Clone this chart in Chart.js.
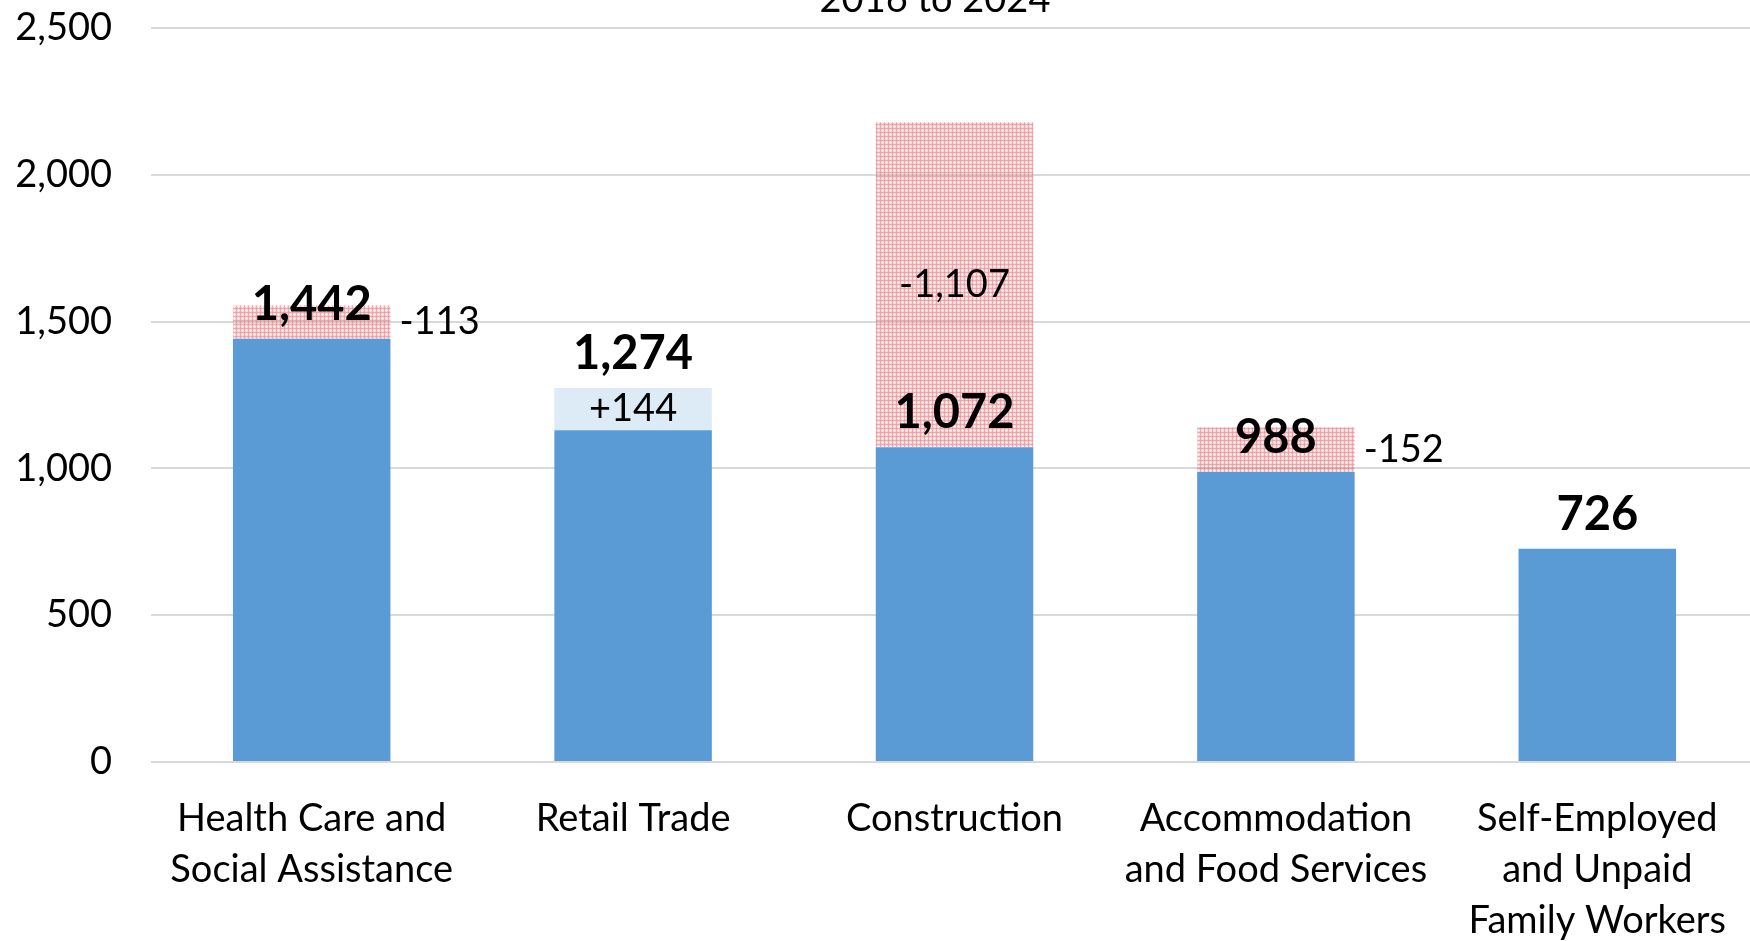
<!DOCTYPE html>
<html><head><meta charset="utf-8">
<script src="https://cdn.jsdelivr.net/npm/chart.js@4.4.1/dist/chart.umd.min.js"></script>
<style>
html,body{margin:0;padding:0;overflow:hidden;background:#fff}
#wrap{position:relative;width:1760px;height:941px}
</style></head><body><div id="wrap"><canvas id="c"></canvas></div>
<script>
// ---- data ----
const categories = [["Health Care and","Social Assistance"],["Retail Trade"],["Construction"],["Accommodation","and Food Services"],["Self-Employed","and Unpaid","Family Workers"]];
const sharedBase = [1442, 1130, 1072, 988, 726];   // lower of 2016 / 2024 employment
const increase   = [null, 144, null, null, null];  // gain 2016 -> 2024
const decrease   = [113, null, 1107, 152, null];   // loss 2016 -> 2024
const total2024  = [1442, 1274, 1072, 988, 726];
const yTicks     = [0, 500, 1000, 1500, 2000, 2500];
const subtitle   = "2016 to 2024";

// ---- styles ----
const FONT = "Lato";
const changeLabelOutside = [true, false, false, true, false];

function makePattern(){
  const p = document.createElement('canvas');
  p.width = 4; p.height = 4;
  const g = p.getContext('2d');
  const c = a => `rgba(224,100,105,${a})`;
  for (let yy=0; yy<4; yy++) for (let xx=0; xx<4; xx++){
    let a = 0.33;
    if (yy===0 || xx===0) a = 0.55;
    if (yy===0 && xx===0) a = 0.68;
    if ((yy===2 && xx!==0) || (xx===2 && yy!==0)) a = 0.15;
    g.fillStyle = c(a); g.fillRect(xx,yy,1,1);
  }
  return document.getElementById('c').getContext('2d').createPattern(p,'repeat');
}

const fmt = v => v.toLocaleString('en-US');

const labelPlugin = {
  id: 'valueLabels',
  afterDatasetsDraw(chart){
    const ctx = chart.ctx, ys = chart.scales.y;
    ctx.save();
    ctx.fillStyle = '#000';
    ctx.font = `38px ${FONT}`;
    ctx.textBaseline = 'middle';
    [1,2].forEach(di => {
      const meta = chart.getDatasetMeta(di);
      const vals = chart.data.datasets[di].data;
      meta.data.forEach((bar, i) => {
        const v = vals[i];
        if (v == null) return;
        const txt = (di === 1 ? '+' : '-') + fmt(v);
        const mid = (bar.y + bar.base) / 2;
        if (changeLabelOutside[i]) {
          ctx.textAlign = 'left';
          ctx.fillText(txt, bar.x + bar.width/2 + 9, mid);
        } else {
          ctx.textAlign = 'center';
          ctx.fillText(txt, bar.x, mid);
        }
      });
    });
    ctx.font = `bold 47px ${FONT}`;
    ctx.textAlign = 'center';
    const meta0 = chart.getDatasetMeta(0);
    total2024.forEach((v, i) => {
      ctx.fillText(fmt(v), meta0.data[i].x, ys.getPixelForValue(v) - 34);
    });
    ctx.font = `38px ${FONT}`;
    ctx.textBaseline = 'alphabetic';
    ctx.fillText(subtitle, 935, 12);
    ctx.restore();
  }
};

Chart.defaults.font.family = FONT;
Chart.defaults.color = '#000';

new Chart(document.getElementById('c'), {
  type: 'bar',
  data: {
    labels: categories,
    datasets: [
      { label: 'Base', data: sharedBase, backgroundColor: '#5B9BD5' },
      { label: 'Increase', data: increase, backgroundColor: '#DDEBF7' },
      { label: 'Decrease', data: decrease, backgroundColor: makePattern() }
    ]
  },
  options: {
    responsive: true,
    maintainAspectRatio: false,
    devicePixelRatio: 1,
    animation: false,
    layout: { padding: { top: 28, right: 2, left: 0, bottom: 0 } },
    datasets: { bar: { categoryPercentage: 1, barPercentage: 0.49, borderWidth: 0 } },
    plugins: { legend: { display: false }, tooltip: { enabled: false }, title: { display: false } },
    scales: {
      x: {
        stacked: true,
        grid: { display: false },
        border: { display: false },
        ticks: { font: { size: 38, lineHeight: 51/38 }, padding: 23, maxRotation: 0, autoSkip: false, color: '#000' },
        afterFit: s => { s.height = 179; s.paddingLeft = 0; s.paddingRight = 0; }
      },
      y: {
        stacked: true,
        min: yTicks[0], max: yTicks[yTicks.length-1],
        afterBuildTicks: s => { s.ticks = yTicks.map(v => ({ value: v })); },
        grid: { color: '#D9D9D9', lineWidth: 2, drawTicks: false },
        border: { display: false },
        ticks: { font: { size: 38 }, padding: 39, color: '#000', callback: v => fmt(v) },
        afterFit: s => { s.width = 151; s.paddingTop = 0; s.paddingBottom = 0; }
      }
    }
  },
  plugins: [labelPlugin]
});
</script></body></html>
